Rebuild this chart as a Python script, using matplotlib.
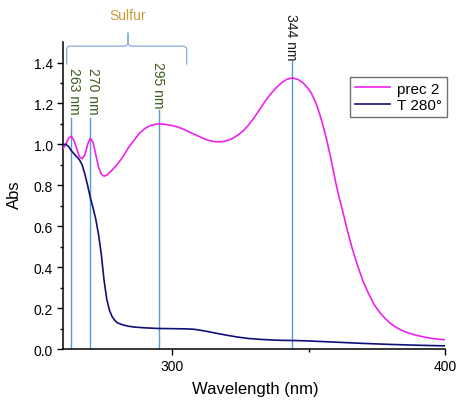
import numpy as np
import matplotlib
matplotlib.use('Agg')
import matplotlib.pyplot as plt
from matplotlib.path import Path
from matplotlib.patches import PathPatch

plt.rcParams['font.family'] = ['Liberation Sans', 'DejaVu Sans']

# spettro del precursore
wl_prec = [260, 261, 262, 263, 264, 265, 266, 267, 268, 269, 270, 271, 272, 273, 274, 275, 276,
           278, 280, 282, 284, 286, 288, 290, 292, 294, 296, 298, 300, 302, 304, 306, 308, 310,
           312, 314, 316, 318, 320, 322, 324, 326, 328, 330, 332, 334, 336, 338, 340, 342, 344,
           346, 348, 350, 351, 352, 353, 354, 355, 356, 357, 358, 359, 360, 361, 362, 364, 366,
           368, 370, 372, 374, 376, 378, 380, 382, 384, 386, 388, 390, 392, 394, 396, 398, 400]
abs_prec = [0.98, 1.00, 1.03, 1.04, 1.02, 0.98, 0.94, 0.93, 0.95, 1.00, 1.03, 1.01, 0.95, 0.89,
            0.855, 0.845, 0.85, 0.875, 0.905, 0.94, 0.985, 1.02, 1.055, 1.078, 1.092, 1.099, 1.100,
            1.097, 1.092, 1.085, 1.075, 1.062, 1.050, 1.038, 1.026, 1.017, 1.013, 1.013, 1.018,
            1.028, 1.045, 1.066, 1.095, 1.13, 1.17, 1.21, 1.245, 1.275, 1.30, 1.318, 1.325, 1.318,
            1.30, 1.27, 1.25, 1.222, 1.19, 1.15, 1.105, 1.055, 1.0, 0.94, 0.875, 0.81, 0.75, 0.70,
            0.59, 0.49, 0.405, 0.33, 0.27, 0.218, 0.18, 0.15, 0.125, 0.107, 0.093, 0.082, 0.073,
            0.066, 0.060, 0.055, 0.051, 0.048, 0.046]

# spettro dopo trattamento a 280 gradi
wl_t280 = [260, 261, 262, 263, 264, 265, 266, 267, 268, 269, 270, 271, 272, 273, 274, 275, 276,
           277, 278, 279, 280, 282, 284, 286, 290, 295, 300, 305, 308, 310, 313, 316, 320, 324,
           328, 332, 336, 340, 345, 350, 360, 370, 380, 390, 400]
abs_t280 = [1.00, 1.00, 0.99, 0.97, 0.955, 0.94, 0.925, 0.90, 0.855, 0.80, 0.74, 0.69, 0.635,
            0.56, 0.465, 0.34, 0.245, 0.19, 0.158, 0.14, 0.128, 0.118, 0.112, 0.108, 0.104, 0.101,
            0.100, 0.099, 0.097, 0.093, 0.086, 0.078, 0.068, 0.059, 0.052, 0.048, 0.045, 0.043,
            0.042, 0.040, 0.034, 0.028, 0.023, 0.019, 0.016]

# picchi segnati
peaks = [263, 270, 295, 344]
peak_labels = ['263 nm', '270 nm', '295 nm', '344 nm']
line_tops = [1.13, 1.13, 1.17, 1.405]
label_tops = [1.376, 1.376, 1.405, 1.644]
label_dx = [1.1, 1.1, -0.3, -0.3]
label_colors = ['#3d5a1e', '#3d5a1e', '#3d5a1e', '#1a1a1a']

fig = plt.figure(figsize=(4.74, 4.10), dpi=100)
ax = fig.add_axes([0.133, 0.146, 0.806, 0.749])

for p, top in zip(peaks, line_tops):
    ax.plot([p, p], [0, top], color='#5b9bd5', lw=1.0, zorder=1)

ax.plot(wl_prec, abs_prec, color='#ee22ee', lw=1.2, label='prec 2', zorder=3)
ax.plot(wl_t280, abs_t280, color='#10107a', lw=1.2, label='T 280°', zorder=3)

for p, lab, ty, dx, c in zip(peaks, peak_labels, label_tops, label_dx, label_colors):
    ax.text(p + dx, ty, lab, rotation=270, ha='center', va='top', fontsize=10,
            color=c, clip_on=False)

# parentesi graffa "Sulfur"
xl, xr, xm = 261.35, 305.3, 283.8
yh, ye, yt = 1.48, 1.39, 1.546
verts = [(xl, ye), (xl, yh - 0.015), (xl, yh), (xl + 1.5, yh), (xm - 1.5, yh), (xm, yh), (xm, yh + 0.02), (xm, yt),
         (xm, yt), (xm, yh + 0.02), (xm, yh), (xm + 1.5, yh), (xr - 1.5, yh), (xr, yh), (xr, yh - 0.015), (xr, ye)]
codes = [Path.MOVETO, Path.LINETO, Path.CURVE3, Path.CURVE3, Path.LINETO, Path.CURVE3, Path.CURVE3, Path.LINETO,
         Path.MOVETO, Path.LINETO, Path.CURVE3, Path.CURVE3, Path.LINETO, Path.CURVE3, Path.CURVE3, Path.LINETO]
ax.add_patch(PathPatch(Path(verts, codes), fill=False, edgecolor='#8fb4dc', lw=1.0, clip_on=False))
ax.text(xm, 1.634, 'Sulfur', ha='center', va='center', fontsize=10,
        color='#c89a3a', clip_on=False)

ax.set_xlim(260, 400)
ax.set_ylim(0, 1.5)
ax.set_xticks([300, 400])
ax.set_xticks([350], minor=True)
ax.set_yticks(np.arange(0, 1.41, 0.2))
ax.set_yticks(np.arange(0.1, 1.5, 0.2), minor=True)
ax.yaxis.set_major_formatter(matplotlib.ticker.FormatStrFormatter('%.1f'))
ax.tick_params(which='major', direction='out', length=4.3, width=1, labelsize=10, pad=3)
ax.tick_params(which='minor', direction='out', length=2.2, width=1)

for s in ['top', 'right']:
    ax.spines[s].set_visible(False)
for s in ['left', 'bottom']:
    ax.spines[s].set_linewidth(1.1)

ax.set_xlabel('Wavelength (nm)', fontsize=12)
ax.set_ylabel('Abs', fontsize=12)
ax.xaxis.set_label_coords(0.503, -0.105)
ax.yaxis.set_label_coords(-0.107, 0.505)

leg = ax.legend(loc='upper left', bbox_to_anchor=(0.751, 0.886), borderaxespad=0, fontsize=11,
                fancybox=False, edgecolor='#707070', handlelength=2.3, handletextpad=0.5,
                borderpad=0.3, labelspacing=0.15, framealpha=1)
leg.get_frame().set_linewidth(1.0)

fig.savefig('out.png', dpi=100)
